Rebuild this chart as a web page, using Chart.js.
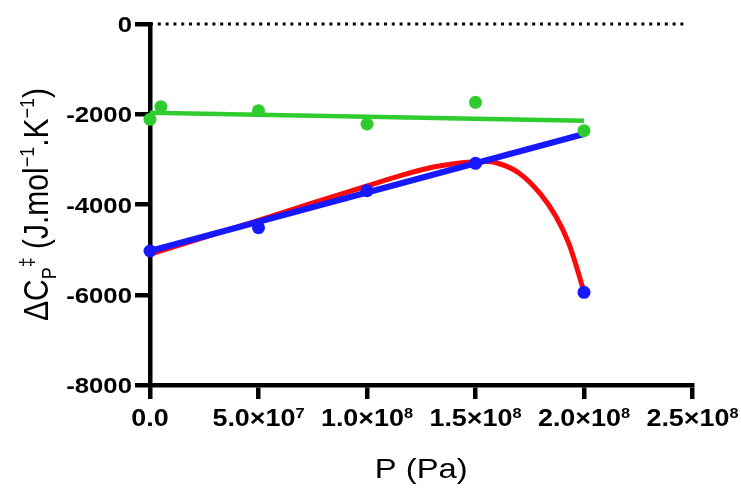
<!DOCTYPE html>
<html><head><meta charset="utf-8">
<script src="https://cdn.jsdelivr.net/npm/chart.js@4.4.1/dist/chart.umd.min.js"></script>
<style>html,body{margin:0;padding:0;background:#fff}#wrap{width:741px;height:489px}</style>
</head><body><div id="wrap"><canvas id="c" width="741" height="489"></canvas></div>
<script>
// ---- data ----
const xTicks = [0, 5e7, 1e8, 1.5e8, 2e8, 2.5e8];
const xTickLabels = [["0.0",""],["5.0×10","7"],["1.0×10","8"],["1.5×10","8"],["2.0×10","8"],["2.5×10","8"]];
const yTicks = [0, -2000, -4000, -6000, -8000];
const yTickLabels = ["0", "-2000", "-4000", "-6000", "-8000"];

const greenP = [0, 5e6, 5e7, 1e8, 1.5e8, 2e8];
const greenV = [-2113, -1832, -1920, -2216, -1736, -2364];
const blueP = [0, 5e7, 1e8, 1.5e8, 2e8];
const blueV = [-5030, -4514, -3694, -3088, -5946];

const greenFitP = [0, 2e8];
const greenFitV = [-1965, -2145];
const blueFitP = [0, 2e8];
const blueFitV = [-5030, -2438];
const redFitP = [0, 2.5e7, 5e7, 7.5e7, 1e8, 1.15e8, 1.3e8, 1.4e8, 1.5e8, 1.55e8, 1.6e8, 1.7e8, 1.8e8, 1.87e8, 1.93e8, 1.97e8, 2e8];
const redFitV = [-5100, -4730, -4350, -3965, -3590, -3365, -3175, -3095, -3052, -3045, -3080, -3300, -3770, -4260, -4860, -5450, -5946];
const zeroLineP = [0, 2.48e8];
const zeroLineV = [0, 0];

const xTitle = "P (Pa)";

// ---- helpers ----
const zip = (xs, ys) => xs.map((x, i) => ({x: x, y: ys[i]}));
const FAM = '"Liberation Sans", Arial, sans-serif';
const SX = 1.17;
const GREEN = '#2fcc2f', BLUE = '#1818ff', RED = '#ff0a0a';

function measure(ctx, parts) {
  let w = 0;
  for (const p of parts) { ctx.font = p.font; w += ctx.measureText(p.t).width; }
  return w;
}
function drawRuns(ctx, parts, x0, y0) {
  let x = x0;
  for (const p of parts) {
    ctx.font = p.font;
    ctx.fillText(p.t, x, y0 - (p.rise || 0));
    x += ctx.measureText(p.t).width;
  }
}

const textPlugin = {
  id: 'textPlugin',
  afterDraw(chart) {
    const ctx = chart.ctx;
    const xs = chart.scales.x, ys = chart.scales.y;
    ctx.save();
    ctx.fillStyle = '#000';
    ctx.textBaseline = 'alphabetic';
    ctx.textAlign = 'left';
    // x tick labels
    xTicks.forEach((v, i) => {
      const parts = [{t: xTickLabels[i][0], font: 'bold 23px ' + FAM},
                     {t: xTickLabels[i][1], font: 'bold 14px ' + FAM, rise: 8}];
      const w = measure(ctx, parts);
      ctx.save();
      ctx.translate(xs.getPixelForValue(v), 425.5);
      ctx.scale(SX, 1);
      drawRuns(ctx, parts, -w / 2, 0);
      ctx.restore();
    });
    // y tick labels
    yTicks.forEach((v, i) => {
      const parts = [{t: yTickLabels[i], font: 'bold 22px ' + FAM}];
      const w = measure(ctx, parts);
      ctx.save();
      ctx.translate(132, ys.getPixelForValue(v) + 8);
      ctx.scale(SX, 1);
      drawRuns(ctx, parts, -w, 0);
      ctx.restore();
    });
    // x title
    {
      const parts = [{t: xTitle, font: '28px ' + FAM}];
      const w = measure(ctx, parts);
      ctx.save();
      ctx.translate((xs.left + xs.right) / 2, 478);
      ctx.scale(SX, 1);
      drawRuns(ctx, parts, -w / 2, 0);
      ctx.restore();
    }
    // y title
    {
      const big = '30px ' + FAM, small = '18px ' + FAM;
      const parts = [
        {t: 'ΔC', font: big}, {t: 'P', font: small, rise: -7}, {t: '‡', font: small, rise: 12},
        {t: ' (J.mol', font: big}, {t: '−1', font: small, rise: 12},
        {t: '.K', font: big}, {t: '−1', font: small, rise: 12}, {t: ')', font: big}
      ];
      const w = measure(ctx, parts);
      ctx.save();
      ctx.translate(48, (ys.top + ys.bottom) / 2);
      ctx.scale(SX, 1);
      ctx.rotate(-Math.PI / 2);
      drawRuns(ctx, parts, -w / 2, 0);
      ctx.restore();
    }
    ctx.restore();
  }
};

const ptDefaults = {showLine: false, pointRadius: 6.5, pointHoverRadius: 6.5, pointBorderWidth: 0, clip: false};
const lnDefaults = {showLine: true, pointRadius: 0, pointHoverRadius: 0, fill: false, clip: false};

new Chart(document.getElementById('c'), {
  type: 'scatter',
  data: {
    datasets: [
      Object.assign({}, lnDefaults, {label: 'zero', data: zip(zeroLineP, zeroLineV), borderColor: '#000', borderWidth: 3, borderDash: [3, 4.8], order: 9}),
      Object.assign({}, lnDefaults, {label: 'red fit', data: zip(redFitP, redFitV), borderColor: RED, borderWidth: 5, cubicInterpolationMode: 'monotone', order: 8}),
      Object.assign({}, lnDefaults, {label: 'blue fit', data: zip(blueFitP, blueFitV), borderColor: BLUE, borderWidth: 6, order: 7}),
      Object.assign({}, lnDefaults, {label: 'green fit', data: zip(greenFitP, greenFitV), borderColor: GREEN, borderWidth: 4.5, order: 6}),
      Object.assign({}, ptDefaults, {label: 'green', data: zip(greenP, greenV), backgroundColor: GREEN, borderColor: GREEN, order: 2}),
      Object.assign({}, ptDefaults, {label: 'blue', data: zip(blueP, blueV), backgroundColor: BLUE, borderColor: BLUE, order: 1})
    ]
  },
  options: {
    responsive: false,
    devicePixelRatio: 1,
    animation: false,
    events: [],
    layout: {padding: {left: 0, top: 24, right: 48.5, bottom: 0}},
    plugins: {legend: {display: false}, tooltip: {enabled: false}},
    scales: {
      x: {
        type: 'linear', min: 0, max: 2.5e8,
        afterBuildTicks: s => { s.ticks = xTicks.map(v => ({value: v})); },
        afterFit: s => { s.height = 104; },
        ticks: {display: false},
        grid: {drawOnChartArea: false, drawTicks: true, tickLength: 14, tickWidth: 4.5, lineWidth: 4.5, color: '#000', tickColor: '#000'},
        border: {display: true, color: '#000', width: 4.5}
      },
      y: {
        type: 'linear', min: -8000, max: 0,
        afterBuildTicks: s => { s.ticks = yTicks.map(v => ({value: v})); },
        afterFit: s => { s.width = 150; },
        ticks: {display: false},
        grid: {drawOnChartArea: false, drawTicks: true, tickLength: 15, tickWidth: 4.5, lineWidth: 4.5, color: '#000', tickColor: '#000'},
        border: {display: true, color: '#000', width: 4.5}
      }
    }
  },
  plugins: [textPlugin]
});
</script>
</body></html>
